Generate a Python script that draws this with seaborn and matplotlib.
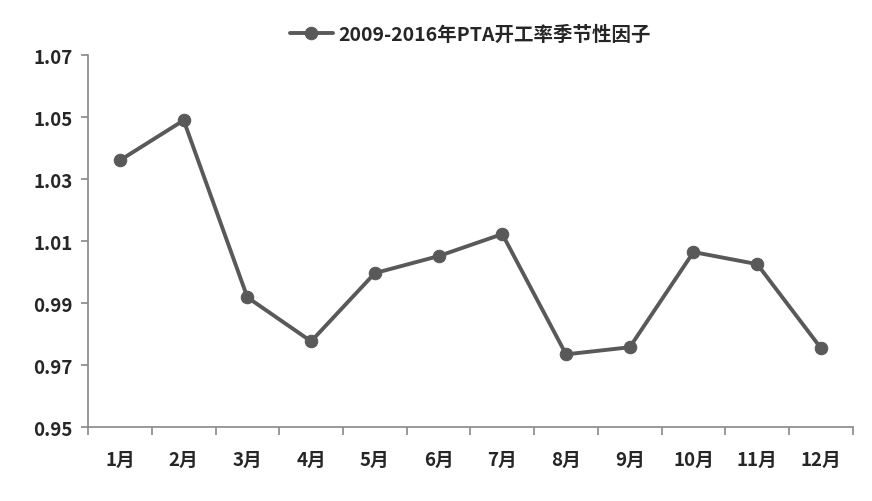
import matplotlib
matplotlib.use("Agg")
import matplotlib.pyplot as plt
import seaborn as sns
import pandas as pd

months = ["1月", "2月", "3月", "4月", "5月", "6月", "7月", "8月", "9月", "10月", "11月", "12月"]
factor = [1.0361, 1.0490, 0.9919, 0.9777, 0.9997, 1.0052, 1.0123, 0.9735, 0.9758, 1.0065, 1.0026, 0.9755]
yticks = [0.95, 0.97, 0.99, 1.01, 1.03, 1.05, 1.07]
series_name = "2009-2016年PTA开工率季节性因子"

sns.set_style("white")
plt.rcParams["font.family"] = ["Noto Sans CJK SC", "DejaVu Sans"]

df = pd.DataFrame({"pos": range(len(months)), "value": factor})

fig = plt.figure(figsize=(8.72, 5.02), dpi=100)
ax = fig.add_axes([0.101, 0.147, 0.877, 0.741])

sns.lineplot(data=df, x="pos", y="value", ax=ax, color="#595959", linewidth=2.8,
             marker="o", markersize=9, markeredgecolor="#595959", label=series_name)

ax.set_xlim(-0.5, len(months) - 0.5)
ax.set_ylim(0.95, 1.07)
ax.set_yticks(yticks)
ax.set_yticklabels(["%.2f" % v for v in yticks], fontsize=13.5, fontweight="bold")

# category boundaries get the tick marks, labels sit in the middle
ax.set_xticks([i - 0.5 for i in range(len(months) + 1)])
ax.set_xticklabels([])
ax.set_xticks(range(len(months)), minor=True)
ax.set_xticklabels(months, minor=True, fontsize=13.5, fontweight="bold")
ax.tick_params(axis="x", which="major", bottom=True, length=6, width=1.2,
               color="#888888", direction="out")
ax.tick_params(axis="x", which="minor", bottom=True, length=0, pad=16)
ax.tick_params(axis="y", left=True, length=5, width=1.2, color="#888888",
               direction="out", pad=6)
ax.set_xlabel("")
ax.set_ylabel("")

sns.despine(ax=ax)
for side in ["left", "bottom"]:
    ax.spines[side].set_color("#888888")
    ax.spines[side].set_linewidth(1.2)

leg = ax.legend(loc="lower center", bbox_to_anchor=(0.5, 1.0), frameon=False,
                prop={"size": 14, "weight": "bold"}, handlelength=2.2, handletextpad=0.3,
                borderaxespad=0.2)

fig.savefig("out.png", dpi=100)
